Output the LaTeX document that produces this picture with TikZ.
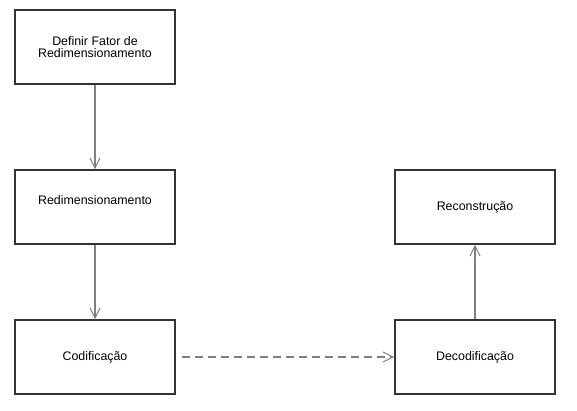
\documentclass[tikz,border=0pt]{standalone}
\usepackage{fontspec}
\setmainfont{Liberation Sans}
\usetikzlibrary{arrows.meta}
\definecolor{boxline}{HTML}{333333}
\definecolor{conn}{HTML}{808080}
\begin{document}
\begin{tikzpicture}[x=1pt,y=-1pt,
  blk/.style={draw=boxline,line width=1.6pt,minimum width=160pt,minimum height=74pt,
    inner sep=0pt,align=center,font=\fontsize{12.4}{12.5}\selectfont},
  conline/.style={draw=conn,line width=1.2pt,-{Straight Barb[length=10pt,width=10pt,line width=1pt]}},
]
\useasboundingbox (0,0) rectangle (577,410);
\node[blk] (a) at (95,47) {Definir Fator de\\Redimensionamento};
\node[blk] (b) at (95,207) {\raisebox{2.5pt}[0pt][0pt]{Redimensionamento}};
\node[blk] (c) at (95,357) {Codificação};
\node[blk] (d) at (475,357) {Decodificação};
\node[blk] (e) at (475,207) {Reconstrução};
\draw[conline] (a) -- (b);
\draw[conline] (b) -- (c);
\draw[conline,dash pattern=on 8pt off 5pt] ([xshift=6pt]c.east) -- (d.west);
\draw[conline] (d) -- (e);
\end{tikzpicture}
\end{document}
